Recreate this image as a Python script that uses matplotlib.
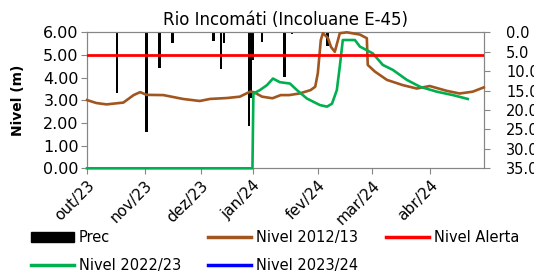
import matplotlib
matplotlib.use("Agg")
from matplotlib import pyplot as plt
from matplotlib.patches import Patch
from matplotlib.lines import Line2D

# days counted from 1 Oct 2023
month_ticks = [0, 31, 61, 89, 124, 153, 184]
month_labels = ['out/23', 'nov/23', 'dez/23', 'jan/24', 'fev/24', 'mar/24', 'abr/24']

prec_days = [16, 32, 39, 46, 68, 72, 73.5, 87, 88, 89, 94, 106, 110, 129]
prec_mm = [15.7, 25.7, 9.3, 2.8, 2.3, 9.5, 2.8, 24.0, 17.0, 7.0, 2.5, 11.5, 0.5, 3.5]

n1213_days = [0, 5, 10.5, 19.5, 25, 28.5, 32, 41, 51.5, 60.5, 66, 75, 82, 87.5, 89.5,
              94, 99.5, 104, 108.5, 114, 120, 122.5, 123.9, 125.5, 126.6, 129.3, 131,
              133, 135.7, 139.5, 146.5, 150.2, 150.7, 154.5, 161, 169.5, 177, 184,
              193, 200, 207, 213]
n1213_val = [3.01, 2.88, 2.82, 2.9, 3.23, 3.36, 3.24, 3.23, 3.06, 2.97, 3.06, 3.1, 3.16,
             3.38, 3.36, 3.16, 3.09, 3.23, 3.23, 3.3, 3.45, 3.6, 4.2, 5.66, 5.96, 5.75,
             5.35, 5.14, 5.96, 6.0, 5.9, 5.74, 4.56, 4.27, 3.9, 3.67, 3.52, 3.63, 3.42,
             3.3, 3.38, 3.57]

n2223_days = [0, 88.8, 89.3, 92.8, 96.6, 99.8, 103.5, 108.9, 112.7, 118, 125, 128.8,
              131.5, 134.1, 135.7, 137.3, 143.8, 146.5, 153.4, 158.8, 164.2, 171.7,
              178.7, 187.8, 196.4, 204.4]
n2223_val = [0.0, 0.0, 3.3, 3.45, 3.67, 3.96, 3.8, 3.74, 3.45, 3.08, 2.79, 2.72, 2.85,
             3.45, 4.5, 5.66, 5.66, 5.37, 5.07, 4.56, 4.34, 3.9, 3.6, 3.38, 3.23, 3.06]

alert_level = 5.0
x_end = 213

plt.rcParams['font.family'] = ['DejaVu Sans']
fig = plt.figure(figsize=(5.34, 2.75), dpi=100)
ax = fig.add_axes([0.163, 0.388, 0.743, 0.4945])
ax2 = ax.twinx()
ax.set_zorder(ax2.get_zorder() + 1)
ax.patch.set_visible(False)

ax2.bar(prec_days, prec_mm, width=1.4, color='black', align='center')
ax2.set_ylim(35, 0)
ax2.set_yticks(range(0, 40, 5))
ax2.set_yticklabels(['%.1f' % v for v in range(0, 40, 5)], fontsize=10.5)
ax2.tick_params(axis='y', length=4, pad=12, color='#868686')

ax.plot(n1213_days, n1213_val, color='#A0561E', lw=1.9, clip_on=False, zorder=3)
ax.plot(n2223_days, n2223_val, color='#00B050', lw=1.9, clip_on=False, zorder=3)
ax.plot([0, x_end], [alert_level, alert_level], color='#FF0000', lw=2.0, zorder=3)

ax.set_xlim(0, x_end)
ax.set_ylim(0, 6)
ax.set_yticks(range(0, 7))
ax.set_yticklabels(['%.2f' % v for v in range(0, 7)], fontsize=11.5)
ax.set_xticks(month_ticks)
ax.set_xticklabels(month_labels, rotation=45, ha='right', rotation_mode='anchor', fontsize=11)
ax.tick_params(axis='y', length=4, pad=2, color='#868686')
ax.tick_params(axis='x', length=4, pad=3, color='#868686')
for a in (ax, ax2):
    for s in a.spines.values():
        s.set_color('#868686')
ax.set_ylabel('Nivel (m)', fontsize=10, fontweight='bold', labelpad=13)
ax.set_title('Rio Incomáti (Incoluane E-45)', fontsize=12, pad=5)

handles = [
    Patch(facecolor='black', edgecolor='black'),
    Line2D([], [], color='#00B050', lw=2.5),
    Line2D([], [], color='#A0561E', lw=2.5),
    Line2D([], [], color='#0000FF', lw=2.5),
    Line2D([], [], color='#FF0000', lw=2.5),
]
labels = ['Prec', 'Nivel 2022/23', 'Nivel 2012/13', 'Nivel 2023/24', 'Nivel Alerta']
fig.legend(handles, labels, loc='upper left', bbox_to_anchor=(0.058, 0.162), ncol=3,
           frameon=False, fontsize=10.5, handlelength=2.95, handletextpad=0.35,
           columnspacing=1.85, borderpad=0, borderaxespad=0, labelspacing=0.85)

fig.savefig('out.png', dpi=100)
